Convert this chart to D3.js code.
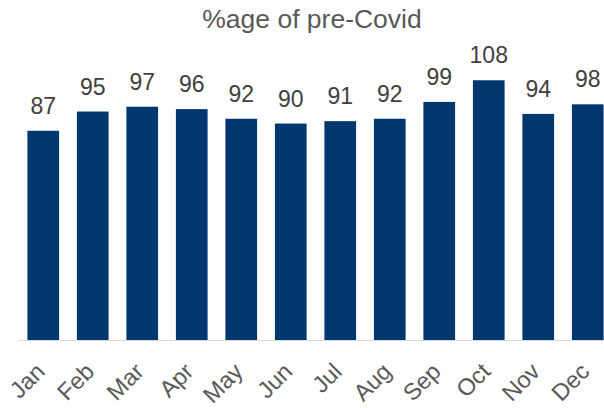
<!DOCTYPE html>
<html><head><meta charset="utf-8">
<script src="https://d3js.org/d3.v7.min.js"></script>
<style>body{margin:0;background:#fff}svg{display:block}text{font-family:"Liberation Sans",Arial,sans-serif}</style>
</head><body><svg id="c" width="604" height="408"></svg>
<script>
const months = ["Jan","Feb","Mar","Apr","May","Jun","Jul","Aug","Sep","Oct","Nov","Dec"];
const values = [87,95,97,96,92,90,91,92,99,108,94,98];
const title = "%age of pre-Covid";

const svg = d3.select("#c");
const x = d3.scaleBand().domain(months).range([18.5, 612.5]).paddingInner(0.36).paddingOuter(0.18);
const y = d3.scaleLinear().domain([0, 120]).range([340, 51.4]);

svg.append("text").attr("x", 312).attr("y", 27.5).attr("text-anchor", "middle")
  .attr("font-size", 26.5).attr("fill", "#595959").text(title);

svg.selectAll("rect.bar").data(values).join("rect").attr("class","bar")
  .attr("x", (d,i) => x(months[i])).attr("width", x.bandwidth())
  .attr("y", d => y(d)).attr("height", d => y(0) - y(d)).attr("fill", "#00376F");

svg.append("line").attr("x1", 18).attr("x2", 604).attr("y1", 340.5).attr("y2", 340.5)
  .attr("stroke", "#D9D9D9").attr("stroke-width", 1);

svg.selectAll("text.val").data(values).join("text").attr("class","val")
  .attr("x", (d,i) => x(months[i]) + x.bandwidth()/2).attr("y", d => y(d) - 17)
  .attr("text-anchor", "middle").attr("font-size", 23).attr("fill", "#404040").text(d => d);

svg.selectAll("text.lab").data(months).join("text").attr("class","lab")
  .attr("transform", d => `translate(${x(d) + x.bandwidth()/2 + 3},373) rotate(-45)`)
  .attr("text-anchor", "end").attr("font-size", 23.5).attr("fill", "#595959").text(d => d);
</script></body></html>
